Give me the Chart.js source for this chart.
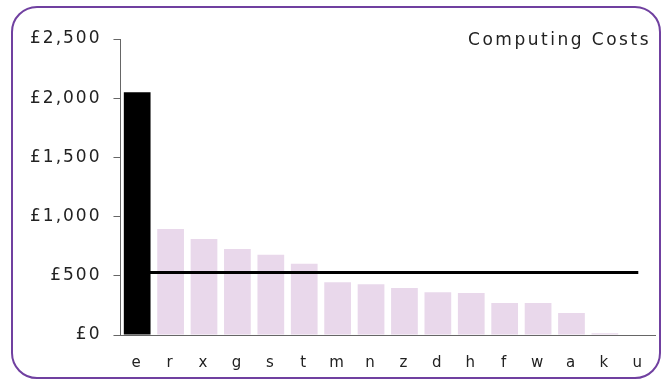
<!DOCTYPE html>
<html>
<head>
<meta charset="utf-8">
<script src="https://cdn.jsdelivr.net/npm/chart.js@4"></script>
<style>
  html, body { margin: 0; padding: 0; background: #fff; }
  #frame {
    position: absolute; left: 11px; top: 6px;
    width: 646px; height: 369px;
    border: 2px solid #7040a0; border-radius: 26px;
  }
  #costChart { position: absolute; left: 0; top: 0; }
</style>
</head>
<body>
<div id="frame"></div>
<canvas id="costChart" width="668" height="383"></canvas>
<script>
// Computing costs per user (pounds)
const users = ['e', 'r', 'x', 'g', 's', 't', 'm', 'n', 'z', 'd', 'h', 'f', 'w', 'a', 'k', 'u'];
const costs = [2050, 895, 811, 727, 677, 602, 446, 429, 396, 362, 354, 270, 270, 186, 15, 0];
const averageCost = 527;
const yTicks = [0, 500, 1000, 1500, 2000, 2500];

const FONT = "'DejaVu Sans', sans-serif";
const SPACING = '2px';

// canvas letter spacing, reapplied since resizing resets context state
const spacing = {
  id: 'spacing',
  beforeUpdate(chart) { chart.ctx.letterSpacing = SPACING; },
  beforeDraw(chart) { chart.ctx.letterSpacing = SPACING; }
};

const cornerTitle = {
  id: 'cornerTitle',
  afterDraw(chart) {
    const { ctx, chartArea } = chart;
    ctx.save();
    ctx.letterSpacing = '2.5px';
    ctx.font = "17px " + FONT;
    ctx.fillStyle = '#222';
    ctx.textAlign = 'right';
    ctx.textBaseline = 'middle';
    ctx.fillText('Computing Costs', chartArea.right - 4, chartArea.top + 2);
    ctx.restore();
  }
};

const ctx = document.getElementById('costChart').getContext('2d');
new Chart(ctx, {
  data: {
    labels: users,
    datasets: [
      {
        type: 'line',
        data: users.map(() => averageCost),
        borderColor: '#000',
        borderWidth: 3,
        pointRadius: 0,
        order: 0
      },
      {
        type: 'bar',
        data: costs,
        backgroundColor: costs.map((v, i) => i === 0 ? '#000' : '#e9d8eb'),
        barPercentage: 0.8,
        categoryPercentage: 1.0,
        order: 1
      }
    ]
  },
  options: {
    responsive: false,
    animation: false,
    devicePixelRatio: 1,
    layout: { padding: { left: 18, right: 13, top: 39, bottom: 0 } },
    plugins: {
      legend: { display: false },
      tooltip: { enabled: false }
    },
    scales: {
      x: {
        grid: { display: false },
        border: { display: true, color: '#666', width: 1 },
        ticks: { color: '#222', font: { family: FONT, size: 15 }, padding: 11,
                 maxRotation: 0, autoSkip: false }
      },
      y: {
        min: 0,
        max: 2500,
        afterBuildTicks: axis => { axis.ticks = yTicks.map(v => ({ value: v })); },
        grid: { drawOnChartArea: false, drawTicks: true, tickLength: 7, color: '#666' },
        border: { display: true, color: '#666', width: 1 },
        ticks: {
          color: '#222',
          font: { family: FONT, size: 17 },
          padding: 12,
          callback: v => '£' + v.toLocaleString('en-GB')
        }
      }
    }
  },
  plugins: [spacing, cornerTitle]
});
</script>
</body>
</html>
